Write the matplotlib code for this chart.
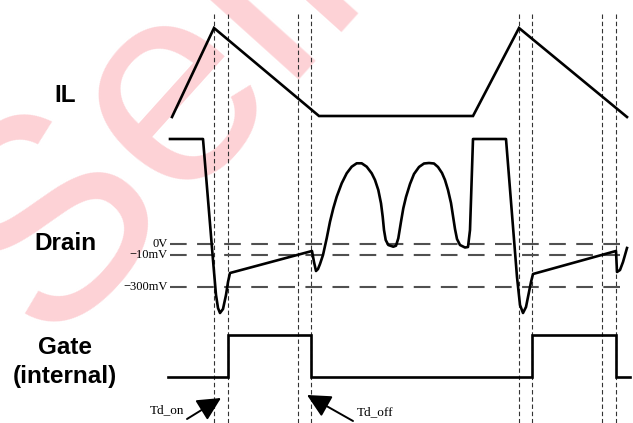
import matplotlib.pyplot as plt

# everything in pixel units (y grows downward)
il_x = [172, 214, 319, 473, 519, 627]
il_y = [117, 28, 116, 116, 28, 117]

drain_x = [170, 203, 213, 216, 218, 220, 223, 226, 228, 230,
           312, 314, 316, 318, 320, 323, 326.7, 330, 333.3, 336.7, 341.7, 346.7, 351.7, 356.7,
           361.7, 366.7, 371.7, 375, 378.3, 381, 382.7, 384, 385.7, 388.3, 393.3,
           396, 398.3, 401, 403.3, 406, 410, 414, 419, 424, 429, 434, 438, 442, 445, 448,
           451, 453, 455, 457, 460, 465, 468, 470, 471, 473,
           506, 517, 520, 523, 526, 528, 531, 533,
           616, 617, 620, 623, 627]
drain_y = [139, 139, 260, 295, 308, 313, 309, 295, 282, 273,
           251, 262, 271, 269, 264, 255, 238.3, 221.7, 208.3, 196.7, 183.3, 173.3, 166.7, 163.3,
           163.3, 166.7, 173.3, 180, 190, 203.3, 216.7, 230, 240, 245, 246.7,
           245.7, 238.3, 221.7, 208.3, 197, 184, 174, 167, 163.5, 163, 163.5, 167, 173, 180, 190,
           203, 216, 229, 239, 245, 247.5, 247, 230, 200, 139,
           139, 277, 305, 313, 307, 297, 282, 274,
           251, 272, 270, 262, 248]

gate_x = [168, 228, 228, 311, 311, 532, 532, 616, 616, 630]
gate_y = [377, 377, 335, 335, 377, 377, 335, 335, 377, 377]

vlines_x = [214, 228, 298, 311, 519, 532, 602, 616]
ref_levels = [244, 255, 287]
ref_labels = ["0V", "\u221210mV", "\u2212300mV"]

row_labels = ["IL", "Drain", "Gate", "(internal)"]
row_label_y = [95, 243, 347, 377]

fig = plt.figure(figsize=(6.33, 4.23), dpi=100)
ax = fig.add_axes([0, 0, 1, 1])
ax.set_xlim(0, 633)
ax.set_ylim(423, 0)
ax.axis("off")

# pink watermark, cut by the frame like in the source
ax.text(48, 345, "Sell", fontsize=207, family="Liberation Sans", color="#fdd2d6",
        rotation=48, rotation_mode="anchor", ha="left", va="baseline", zorder=0, clip_on=True)

for x in vlines_x:
    ax.plot([x, x], [14, 423], color="#333333", lw=0.8, ls=(0, (4, 2.5)), zorder=2)

for y, lab in zip(ref_levels, ref_labels):
    ax.plot([170, 630], [y, y], color="#505050", lw=1.5, ls=(0, (8, 5)), zorder=2)
    ax.text(168, y, lab, family="Liberation Serif", fontsize=9, ha="right", va="center")

lw = 1.9
ax.plot(il_x, il_y, color="black", lw=lw, solid_joinstyle="miter", zorder=3)
ax.plot(drain_x, drain_y, color="black", lw=lw, solid_joinstyle="round", zorder=3)
ax.plot(gate_x, gate_y, color="black", lw=lw, solid_joinstyle="miter", zorder=3)

for lab, y in zip(row_labels, row_label_y):
    ax.text(65, y, lab, family="Liberation Sans", fontweight="bold", fontsize=17.5,
            ha="center", va="center")

arrow = dict(arrowstyle="-|>,head_length=0.8,head_width=0.4", color="black", lw=1.4,
             mutation_scale=18, shrinkA=0, shrinkB=0)
ax.annotate("", xy=(221, 398), xytext=(187, 419), arrowprops=arrow)
ax.annotate("", xy=(307, 395), xytext=(353, 421), arrowprops=arrow)
ax.text(150, 410, "Td_on", family="Liberation Serif", fontsize=9.5, ha="left", va="center")
ax.text(357, 412, "Td_off", family="Liberation Serif", fontsize=9.5, ha="left", va="center")

fig.savefig("out.png", dpi=100)
